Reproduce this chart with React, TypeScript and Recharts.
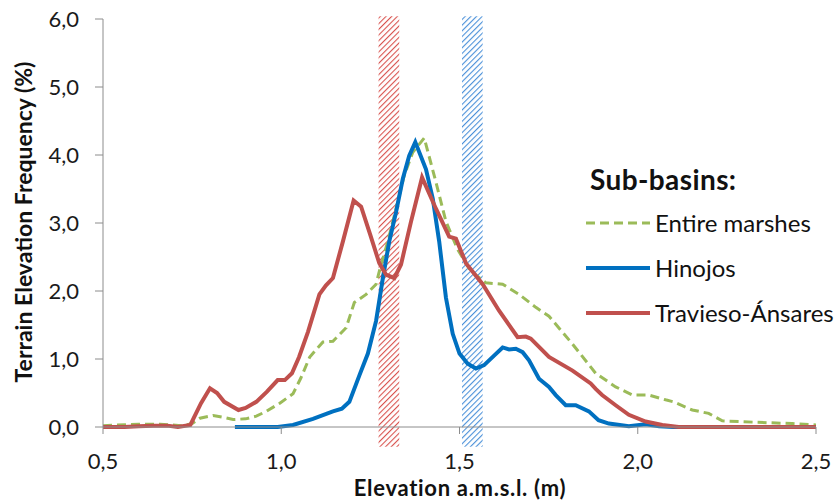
import {
  LineChart,
  Line,
  XAxis,
  YAxis,
  ReferenceArea,
  Legend,
} from "recharts";

// Travieso-Ánsares sub-basin
const travElev = [
  0.5, 0.56, 0.6, 0.64, 0.68, 0.71, 0.745, 0.775, 0.8, 0.82, 0.84, 0.88, 0.9, 0.93, 0.96, 0.99,
  1.01, 1.03, 1.05, 1.075, 1.107, 1.125, 1.145, 1.173, 1.203, 1.224, 1.25, 1.275, 1.294, 1.317,
  1.336, 1.364, 1.395, 1.434, 1.471, 1.49, 1.518, 1.565, 1.611, 1.663, 1.686, 1.7, 1.751, 1.817,
  1.868, 1.882, 1.9, 1.938, 1.975, 2.022, 2.069, 2.115, 2.3, 2.5,
];
const travFreq = [
  0.0, 0.0, 0.01, 0.02, 0.02, 0.0, 0.03, 0.35, 0.57, 0.5, 0.37, 0.25, 0.28, 0.37, 0.52, 0.69,
  0.69, 0.79, 1.03, 1.4, 1.95, 2.08, 2.19, 2.73, 3.33, 3.24, 2.82, 2.41, 2.24, 2.19,
  2.39, 3.02, 3.67, 3.21, 2.8, 2.77, 2.41, 2.1, 1.71, 1.32, 1.33, 1.3, 1.03, 0.83,
  0.64, 0.56, 0.47, 0.32, 0.18, 0.08, 0.03, 0.0, 0.0, 0.0,
];

// Entire marshes
const allElev = [
  0.5, 0.6, 0.66, 0.72, 0.75, 0.772, 0.809, 0.84, 0.865, 0.9, 0.93, 0.958, 0.996, 1.033, 1.055,
  1.08, 1.117, 1.145, 1.182, 1.205, 1.238, 1.266, 1.275, 1.299, 1.322, 1.345, 1.369, 1.401,
  1.434, 1.462, 1.495, 1.532, 1.574, 1.621, 1.667, 1.714, 1.751, 1.817, 1.882, 1.938, 1.985,
  2.031, 2.078, 2.1, 2.153, 2.199, 2.237, 2.33, 2.433, 2.5,
];
const allFreq = [
  0.02, 0.04, 0.04, 0.02, 0.05, 0.13, 0.17, 0.14, 0.11, 0.12, 0.16, 0.23, 0.35, 0.49, 0.72,
  1.03, 1.25, 1.26, 1.46, 1.83, 1.95, 2.1, 2.29, 2.73, 3.21, 3.7, 4.04, 4.25,
  3.6, 3.02, 2.61, 2.29, 2.12, 2.1, 1.95, 1.76, 1.63, 1.22, 0.79, 0.59, 0.47,
  0.47, 0.4, 0.37, 0.25, 0.2, 0.09, 0.07, 0.05, 0.03,
];

// Hinojos sub-basin
const hinElev = [
  0.87, 0.99, 1.033, 1.089, 1.145, 1.17, 1.191, 1.22, 1.243, 1.266, 1.285, 1.303, 1.322, 1.341,
  1.359, 1.376, 1.406, 1.425, 1.443, 1.462, 1.481, 1.5, 1.523, 1.546, 1.569, 1.597, 1.621, 1.639,
  1.658, 1.677, 1.695, 1.723, 1.751, 1.77, 1.798, 1.826, 1.863, 1.89, 1.919, 1.975, 2.022, 2.06,
  2.1, 2.5,
];
const hinFreq = [
  0.0, 0.0, 0.03, 0.12, 0.23, 0.27, 0.37, 0.77, 1.08, 1.56, 2.19, 2.73, 3.16, 3.65,
  3.99, 4.19, 3.79, 3.36, 2.73, 1.9, 1.37, 1.08, 0.93, 0.86, 0.91, 1.05, 1.17, 1.14,
  1.15, 1.1, 0.98, 0.71, 0.59, 0.47, 0.32, 0.32, 0.23, 0.1, 0.05, 0.01, 0.04, 0.01,
  0.0, 0.0,
];

const xTicks = [0.5, 1.0, 1.5, 2.0, 2.5];
const yTicks = [0, 1, 2, 3, 4, 5, 6];

// highlighted elevation bands (m)
const redBand = [1.273, 1.331];
const blueBand = [1.507, 1.565];

const toPoints = (xs: number[], ys: number[]) => xs.map((x, i) => ({ x, y: ys[i] }));

const travData = toPoints(travElev, travFreq);
const allData = toPoints(allElev, allFreq);
const hinData = toPoints(hinElev, hinFreq);

const FONT = "Lato, 'Open Sans', sans-serif";
const GREEN = "#9bbb59";
const BLUE = "#0070c0";
const RED = "#c0504d";
const AXIS = "#8c8c8c";
const TEXT = "#1a1a1a";

const fmt = (v: number) => v.toFixed(1).replace(".", ",");

function YTick(props: any) {
  const { y, payload } = props;
  return (
    <text x={79} y={y} dy="0.35em" textAnchor="end" fontFamily={FONT} fontSize={22} fill={TEXT}>
      {fmt(payload.value)}
    </text>
  );
}

function XTick(props: any) {
  const { x, payload } = props;
  return (
    <text x={x} y={461} dy="0.35em" textAnchor="middle" fontFamily={FONT} fontSize={22} fill={TEXT}>
      {fmt(payload.value)}
    </text>
  );
}

const legendItems = [
  { name: "Entire marshes", color: GREEN, dash: "9 5" },
  { name: "Hinojos", color: BLUE, dash: undefined },
  { name: "Travieso-Ánsares", color: RED, dash: undefined },
];

function SubBasinLegend() {
  return (
    <div style={{ position: "relative", width: 250, height: 180, fontFamily: FONT, color: "#111" }}>
      <div
        style={{
          position: "absolute",
          left: 10,
          top: 4,
          fontSize: 28,
          fontWeight: 700,
          letterSpacing: 0.4,
          whiteSpace: "nowrap",
        }}
      >
        Sub-basins:
      </div>
      {legendItems.map((it, i) => (
        <div
          key={it.name}
          style={{
            position: "absolute",
            left: 4,
            top: 50 + i * 45,
            display: "flex",
            alignItems: "center",
            fontSize: 24,
            whiteSpace: "nowrap",
          }}
        >
          <svg width={68} height={10} style={{ marginRight: 3 }}>
            <line
              x1={2}
              y1={5}
              x2={66}
              y2={5}
              stroke={it.color}
              strokeWidth={it.dash ? 3 : 4}
              strokeDasharray={it.dash}
            />
          </svg>
          {it.name}
        </div>
      ))}
    </div>
  );
}

export default function App() {
  return (
    <div style={{ position: "absolute", left: 0, top: 0, background: "#fff" }}>
      <LineChart width={838} height={501} margin={{ top: 19, right: 22, left: 0, bottom: 24 }}>
        <defs>
          <pattern id="hatchRed" width="4" height="4" patternUnits="userSpaceOnUse" patternTransform="rotate(45)">
            <rect width="4" height="4" fill="#ffffff" />
            <line x1="0" y1="0" x2="0" y2="4" stroke="#d9534f" strokeWidth="2.2" />
          </pattern>
          <pattern id="hatchBlue" width="4" height="4" patternUnits="userSpaceOnUse" patternTransform="rotate(45)">
            <rect width="4" height="4" fill="#ffffff" />
            <line x1="0" y1="0" x2="0" y2="4" stroke="#4a90d9" strokeWidth="2.2" />
          </pattern>
        </defs>
        <XAxis
          type="number"
          dataKey="x"
          domain={[0.5, 2.5]}
          ticks={xTicks}
          allowDataOverflow
          height={50}
          tick={<XTick />}
          tickSize={7}
          stroke={AXIS}
          label={{
            value: "Elevation a.m.s.l. (m)",
            content: () => (
              <text
                x={460}
                y={496}
                textAnchor="middle"
                fontFamily={FONT}
                fontSize={22}
                fontWeight={700}
                letterSpacing={0.7}
                fill="#111"
              >
                Elevation a.m.s.l. (m)
              </text>
            ),
          }}
        />
        <YAxis
          type="number"
          dataKey="y"
          domain={[0, 6]}
          ticks={yTicks}
          width={103}
          tick={<YTick />}
          tickSize={8}
          stroke={AXIS}
          label={{
            value: "Terrain Elevation Frequency (%)",
            content: () => (
              <text
                x={32}
                y={222}
                transform="rotate(-90 32 222)"
                textAnchor="middle"
                fontFamily={FONT}
                fontSize={23}
                fontWeight={700}
                fill="#111"
              >
                Terrain Elevation Frequency (%)
              </text>
            ),
          }}
        />
        <ReferenceArea
          x1={redBand[0]}
          x2={redBand[1]}
          y1={-0.29}
          y2={6.04}
          ifOverflow="visible"
          fill="url(#hatchRed)"
          fillOpacity={1}
          stroke="none"
        />
        <ReferenceArea
          x1={blueBand[0]}
          x2={blueBand[1]}
          y1={-0.29}
          y2={6.04}
          ifOverflow="visible"
          fill="url(#hatchBlue)"
          fillOpacity={1}
          stroke="none"
        />
        <Line
          data={allData}
          dataKey="y"
          name="Entire marshes"
          type="linear"
          stroke={GREEN}
          strokeWidth={3}
          strokeDasharray="9 5"
          dot={false}
          isAnimationActive={false}
        />
        <Line
          data={hinData}
          dataKey="y"
          name="Hinojos"
          type="linear"
          stroke={BLUE}
          strokeWidth={4}
          dot={false}
          isAnimationActive={false}
        />
        <Line
          data={travData}
          dataKey="y"
          name="Travieso-Ánsares"
          type="linear"
          stroke={RED}
          strokeWidth={4}
          dot={false}
          isAnimationActive={false}
        />
        <Legend
          layout="horizontal"
          verticalAlign="middle"
          align="center"
          content={() => <SubBasinLegend />}
          wrapperStyle={{ position: "absolute", left: 580, top: 158, width: 250 }}
        />
      </LineChart>
    </div>
  );
}
